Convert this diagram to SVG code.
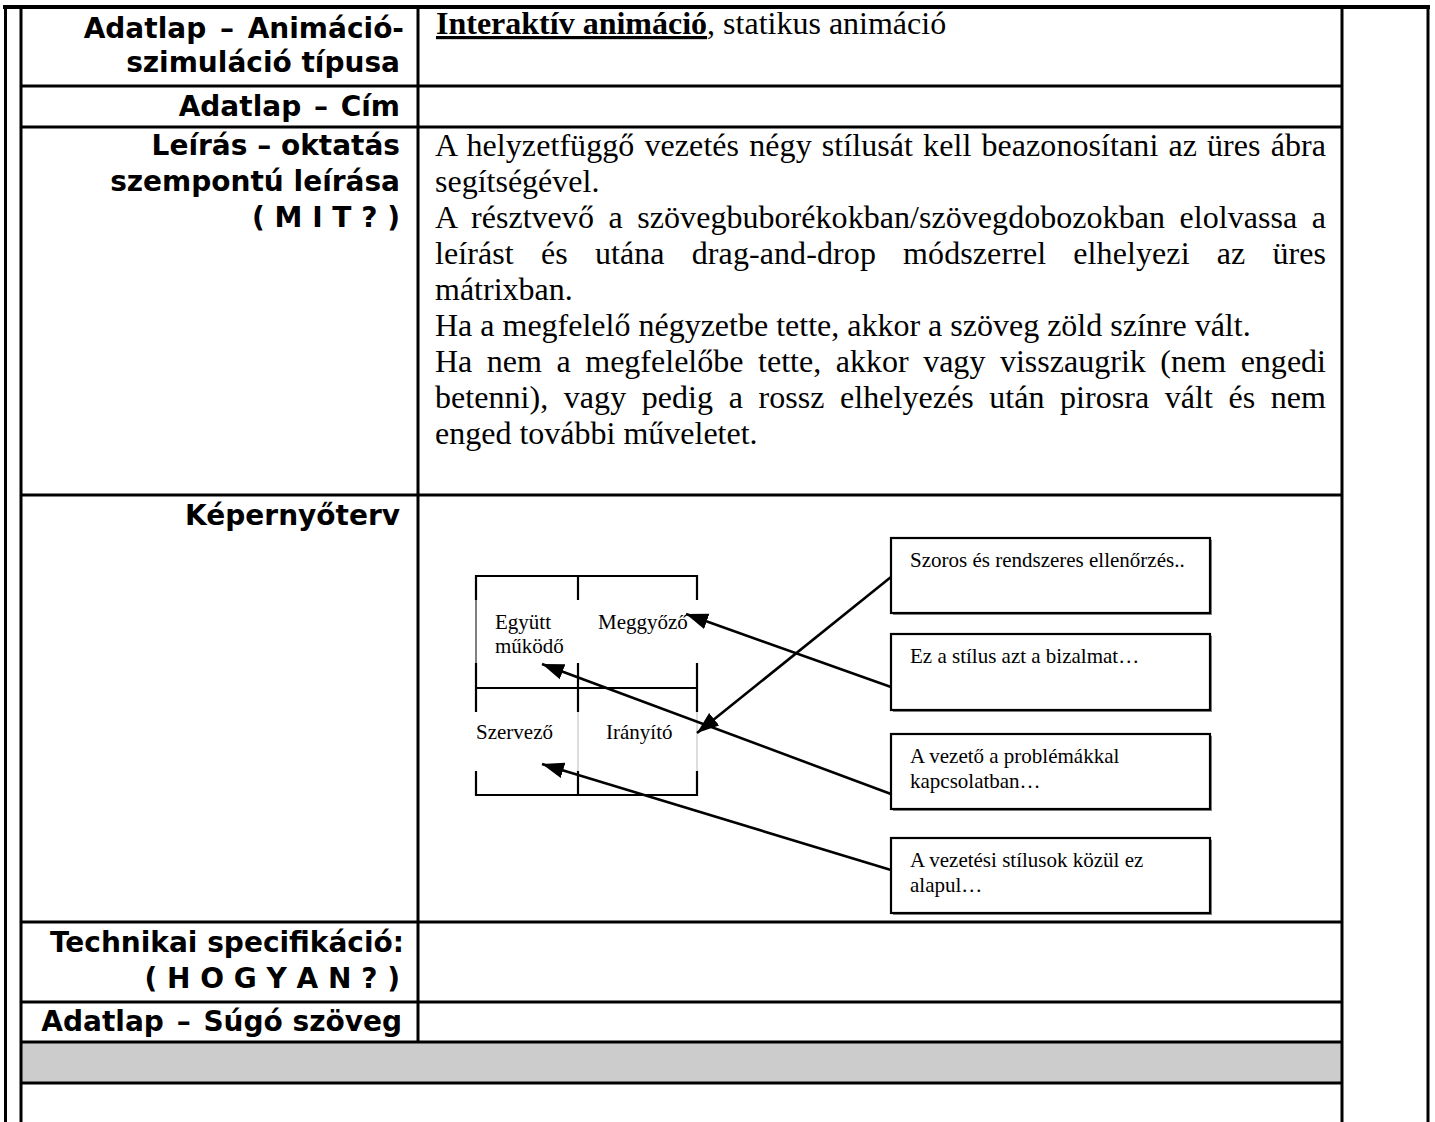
<svg xmlns="http://www.w3.org/2000/svg" width="1435" height="1122" viewBox="0 0 1435 1122">
<style>
.lbl{font-family:"DejaVu Sans","Verdana",sans-serif;font-weight:bold;font-size:28px;fill:#000;text-anchor:end}
.body{font-family:"Liberation Serif","Times New Roman",serif;font-size:32px;fill:#000}
.small{font-family:"Liberation Serif","Times New Roman",serif;font-size:21px;fill:#000}
.frame{stroke:#000;stroke-width:3;fill:none}
.grid{stroke:#000;stroke-width:2.2;fill:none}
.thin{stroke:#000;stroke-width:1;fill:none}
.faint{stroke:#bbb;stroke-width:1;fill:none}
.box{fill:#fff;stroke:#000;stroke-width:2.2}
.shadow{fill:#888}
.conn{stroke:#000;stroke-width:2.6;fill:none}
</style>
<defs>
<marker id="arr" markerUnits="userSpaceOnUse" markerWidth="24" markerHeight="18" refX="22" refY="9" orient="auto">
<path d="M0,1 L22,9 L0,17 Z" fill="#000"/>
</marker>
</defs>
<rect width="1435" height="1122" fill="#fff"/>

<g id="table">
<rect x="21" y="1042" width="1321" height="41" fill="#cccccc"/>
<line class="frame" x1="3" y1="7" x2="1430" y2="7" style="stroke-width:4"/>
<line class="frame" x1="5.5" y1="7" x2="5.5" y2="1122"/>
<line class="frame" x1="1428" y1="7" x2="1428" y2="1122"/>
<line class="frame" x1="21" y1="7" x2="21" y2="1122"/>
<line class="frame" x1="1342" y1="7" x2="1342" y2="1122"/>
<line class="frame" x1="418" y1="7" x2="418" y2="1042"/>
<line class="frame" x1="21" y1="86" x2="1342" y2="86"/>
<line class="frame" x1="21" y1="127" x2="1342" y2="127"/>
<line class="frame" x1="21" y1="495" x2="1342" y2="495"/>
<line class="frame" x1="21" y1="922" x2="1342" y2="922"/>
<line class="frame" x1="21" y1="1002" x2="1342" y2="1002"/>
<line class="frame" x1="21" y1="1042" x2="1342" y2="1042"/>
<line class="frame" x1="21" y1="1083" x2="1342" y2="1083"/>
</g>

<g id="row-tipus">
<text class="lbl" x="404" y="38">Adatlap <tspan dx="4">–</tspan><tspan dx="4"> Animáció-</tspan></text>
<text class="lbl" x="400" y="72">szimuláció típusa</text>
<text class="body" x="436" y="34"><tspan font-weight="bold" text-decoration="underline">Interaktív animáció</tspan>, statikus animáció</text>
</g>

<g id="row-cim">
<text class="lbl" x="400" y="116">Adatlap <tspan dx="3">–</tspan><tspan dx="3"> Cím</tspan></text>
</g>

<g id="row-leiras">
<text class="lbl" x="400" y="155">Leírás – oktatás</text>
<text class="lbl" x="400" y="191">szempontú leírása</text>
<text class="lbl" x="400" y="227">( M I T ? )</text>
<text class="body" x="435" y="156" word-spacing="2" textLength="891" lengthAdjust="spacing">A helyzetfüggő vezetés négy stílusát kell beazonosítani az üres ábra</text>
<text class="body" x="435" y="192">segítségével.</text>
<text class="body" x="435" y="228" word-spacing="6.5" textLength="891" lengthAdjust="spacing">A résztvevő a szövegbuborékokban/szövegdobozokban elolvassa a</text>
<text class="body" x="435" y="264" word-spacing="19" textLength="891" lengthAdjust="spacing">leírást és utána drag-and-drop módszerrel elhelyezi az üres</text>
<text class="body" x="435" y="300">mátrixban.</text>
<text class="body" x="435" y="336">Ha a megfelelő négyzetbe tette, akkor a szöveg zöld színre vált.</text>
<text class="body" x="435" y="372" word-spacing="6.5" textLength="891" lengthAdjust="spacing">Ha nem a megfelelőbe tette, akkor vagy visszaugrik (nem engedi</text>
<text class="body" x="435" y="408" word-spacing="7.5" textLength="891" lengthAdjust="spacing">betenni), vagy pedig a rossz elhelyezés után pirosra vált és nem</text>
<text class="body" x="435" y="444">enged további műveletet.</text>
</g>

<g id="row-kepernyoterv">
<text class="lbl" x="400" y="525">Képernyőterv</text>
</g>

<g id="matrix">
<line class="grid" x1="476" y1="576" x2="697" y2="576"/>
<line class="grid" x1="476" y1="688" x2="697" y2="688"/>
<line class="grid" x1="476" y1="795" x2="697" y2="795"/>
<path class="grid" d="M476,575 V600 M578,575 V600 M697,575 V600 M476,663 V712 M578,663 V712 M697,663 V712 M476,771 V796 M578,771 V796 M697,771 V796"/>
<line class="thin" x1="476" y1="600" x2="476" y2="663"/>
<line class="faint" x1="578" y1="712" x2="578" y2="771"/>
<line class="faint" x1="697" y1="712" x2="697" y2="771"/>
</g>
<g id="cell-egyutt"><text class="small" x="495" y="629">Együtt</text><text class="small" x="495" y="653">működő</text></g>
<g id="cell-meggyozo"><text class="small" x="598" y="629">Meggyőző</text></g>
<g id="cell-szervezo"><text class="small" x="476" y="739">Szervező</text></g>
<g id="cell-iranyito"><text class="small" x="606" y="739">Irányító</text></g>

<g id="box1"><rect class="shadow" x="893" y="540" width="319" height="75"/><rect class="box" x="891" y="538" width="319" height="75"/><text class="small" x="910" y="567">Szoros és rendszeres ellenőrzés..</text></g>
<g id="box2"><rect class="shadow" x="893" y="636" width="319" height="76"/><rect class="box" x="891" y="634" width="319" height="76"/><text class="small" x="910" y="663">Ez a stílus azt a bizalmat…</text></g>
<g id="box3"><rect class="shadow" x="893" y="736" width="319" height="75"/><rect class="box" x="891" y="734" width="319" height="75"/><text class="small" x="910" y="763">A vezető a problémákkal</text><text class="small" x="910" y="788">kapcsolatban…</text></g>
<g id="box4"><rect class="shadow" x="893" y="840" width="319" height="75"/><rect class="box" x="891" y="838" width="319" height="75"/><text class="small" x="910" y="867">A vezetési stílusok közül ez</text><text class="small" x="910" y="892">alapul…</text></g>

<g id="connectors">
<line class="conn" x1="891" y1="577" x2="697" y2="733" marker-end="url(#arr)"/>
<line class="conn" x1="891" y1="687" x2="686" y2="614" marker-end="url(#arr)"/>
<line class="conn" x1="891" y1="794" x2="542" y2="664" marker-end="url(#arr)"/>
<line class="conn" x1="891" y1="870" x2="542" y2="764" marker-end="url(#arr)"/>
</g>

<g id="row-technikai">
<text class="lbl" x="404" y="952">Technikai specifikáció:</text>
<text class="lbl" x="400" y="988">( H O G Y A N ? )</text>
</g>
<g id="row-sugo">
<text class="lbl" x="402" y="1031">Adatlap <tspan dx="3">–</tspan><tspan dx="3"> Súgó szöveg</tspan></text>
</g>
</svg>
